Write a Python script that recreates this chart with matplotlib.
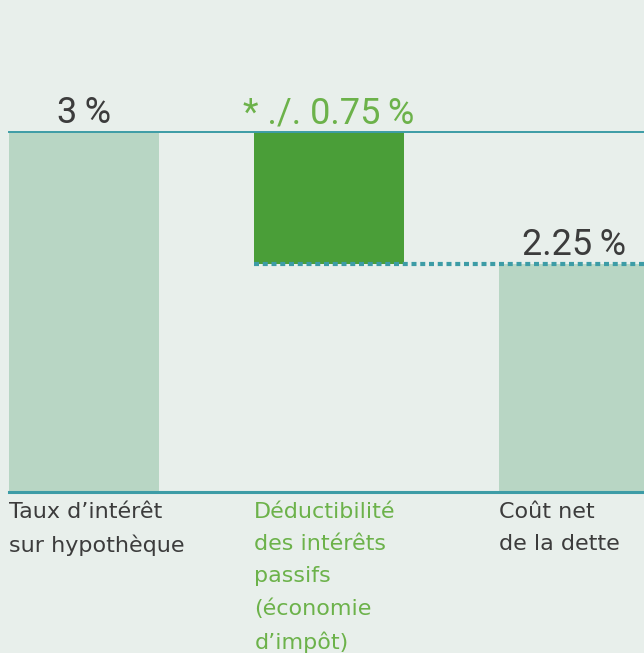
import matplotlib
matplotlib.use("Agg")
import matplotlib.pyplot as plt

# waterfall: mortgage rate, tax deduction, net cost
categories = ["Taux d\u2019intérêt\nsur hypothèque",
              "Déductibilité\ndes intérêts\npassifs\n(économie\nd\u2019impôt)",
              "Coût net\nde la dette"]
rates = [3.0, 0.75, 2.25]
value_labels = ["3\u2009%", "* ./. 0.75\u2009%", "2.25\u2009%"]

BG = "#e8efeb"
PALE = "#b8d6c4"
GREEN = "#4a9e38"
TEAL = "#3d9ca6"
GREY = "#3c3c3c"
LIGHTGREEN = "#6cb24a"

plt.rcParams["font.family"] = ["Roboto", "DejaVu Sans"]

fig = plt.figure(figsize=(6.44, 6.53), dpi=100, facecolor=BG)
ax = fig.add_axes([0, 161 / 653, 1, 492 / 653])
ax.set_facecolor(BG)

x = [0, 1, 2]
w = 0.61
start = rates[0]
net = rates[0] - rates[1]
ax.bar(x[0], rates[0], width=w, color=PALE, zorder=2)
ax.bar(x[1], rates[1], bottom=net, width=w, color=GREEN, zorder=2)
ax.bar(x[2], rates[2], width=w, color=PALE, zorder=2)

ymin = 0.955
ax.set_xlim(-0.343, 2.286)
ax.set_ylim(ymin, ymin + 492 / 176)

left = x[0] - w / 2
ax.plot([left, 2.4], [start, start], color=TEAL, lw=1.4, zorder=3)
ax.plot([x[1] - w / 2, 2.4], [net, net], color=TEAL, lw=3, ls=(0, (1.2, 0.9)), zorder=3)
ax.plot([left, 2.4], [ymin, ymin], color=TEAL, lw=2.2, zorder=3, clip_on=False)

colors = [GREY, LIGHTGREEN, GREY]
tops = [rates[0], rates[0], rates[2]]
for xi, top, lab, c in zip(x, tops, value_labels, colors):
    ax.annotate(lab, (xi, top), xytext=(0, 6.5), textcoords="offset points",
                ha="center", va="baseline", fontsize=26, color=c, fontweight="normal")

for xi, cat, c in zip(x, categories, colors):
    ax.annotate(cat, (xi - w / 2, ymin), xytext=(0, -7), textcoords="offset points",
                ha="left", va="top", fontsize=16, color=c, linespacing=1.75,
                family="DejaVu Sans", annotation_clip=False)

ax.axis("off")
fig.savefig("out.png", dpi=100, facecolor=BG)
